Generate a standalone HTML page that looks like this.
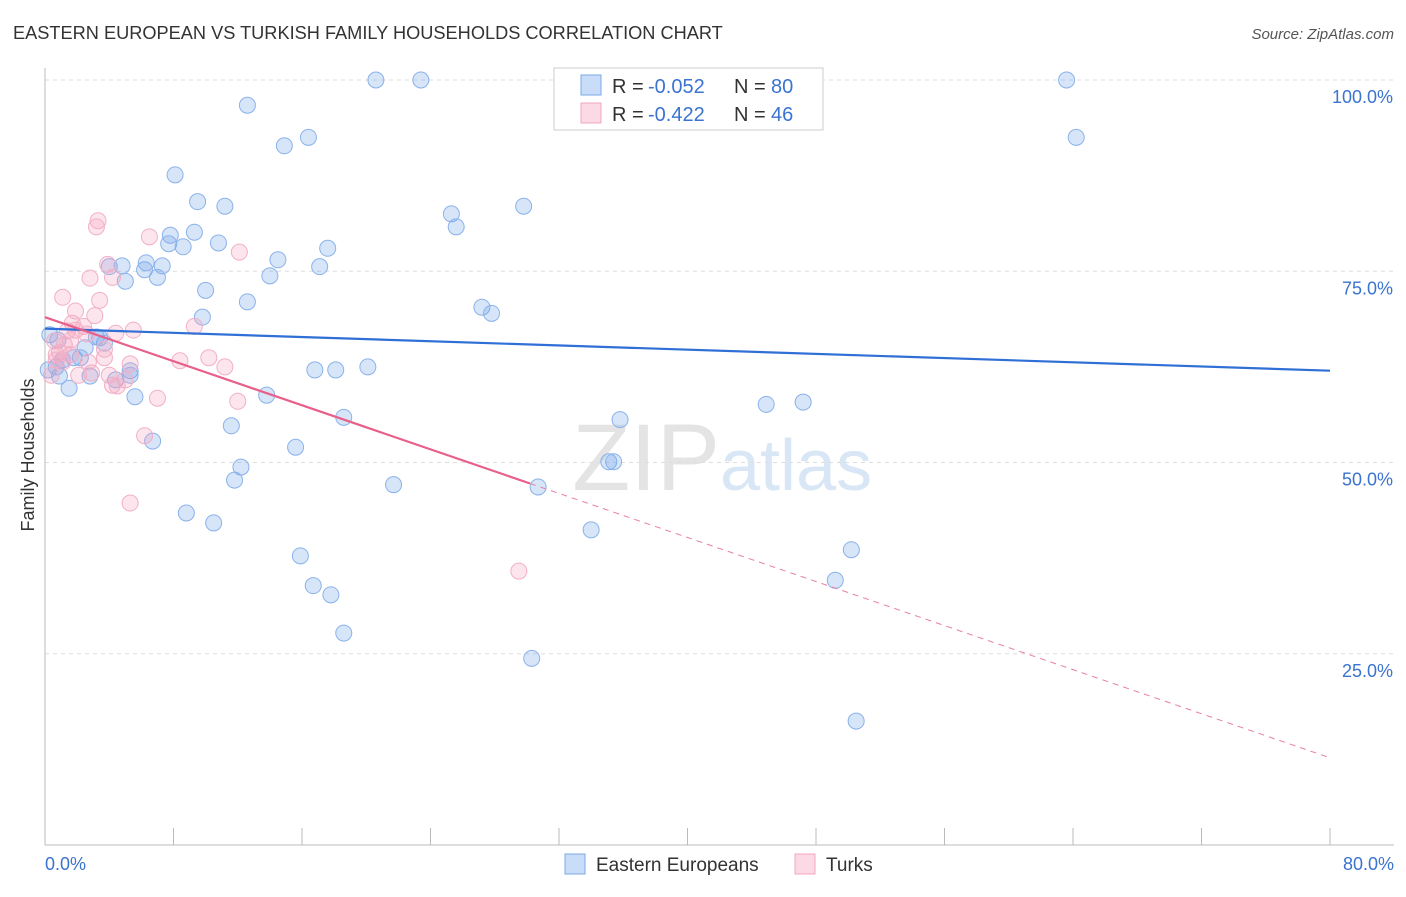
<!DOCTYPE html>
<html><head><meta charset="utf-8"><style>
body{margin:0;background:#fff;font-family:"Liberation Sans",sans-serif}
svg text{font-family:"Liberation Sans",sans-serif}
</style></head><body>
<svg id="c" width="1406" height="892" xmlns="http://www.w3.org/2000/svg">
<text x="13" y="39" font-size="18.2" fill="#333">EASTERN EUROPEAN VS TURKISH FAMILY HOUSEHOLDS CORRELATION CHART</text>
<text x="1394" y="39" font-size="15" fill="#555" font-style="italic" text-anchor="end">Source: ZipAtlas.com</text>
<text x="720" y="490" font-size="95" fill="#e4e4e4" text-anchor="end" font-family="Liberation Serif">ZIP</text>
<text x="720" y="490" font-size="72" fill="#d8e6f6">atlas</text>
<text transform="translate(34,455) rotate(-90)" font-size="18" fill="#333" text-anchor="middle">Family Households</text>
<g id="grid"></g><g id="marks"></g>
<g>
<rect x="554" y="68" width="269" height="62" fill="#fff" stroke="#ccc"/>
<rect x="581" y="75" width="20" height="20" fill="rgba(120,170,240,0.4)" stroke="#7aa8e8"/>
<rect x="581" y="103" width="20" height="20" fill="rgba(245,160,190,0.4)" stroke="#f0a8c0"/>
<text x="612" y="93" font-size="20" fill="#333">R =</text>
<text x="648" y="93" font-size="20" fill="#3a73d0">-0.052</text>
<text x="734" y="93" font-size="20" fill="#333">N =</text>
<text x="771" y="93" font-size="20" fill="#3a73d0">80</text>
<text x="612" y="121" font-size="20" fill="#333">R =</text>
<text x="648" y="121" font-size="20" fill="#3a73d0">-0.422</text>
<text x="734" y="121" font-size="20" fill="#333">N =</text>
<text x="771" y="121" font-size="20" fill="#3a73d0">46</text>
</g>
<g>
<rect x="565" y="854" width="20" height="20" fill="rgba(120,170,240,0.4)" stroke="#7aa8e8"/>
<text x="596" y="871" font-size="19" fill="#333">Eastern Europeans</text>
<rect x="795" y="854" width="20" height="20" fill="rgba(245,160,190,0.4)" stroke="#f0a8c0"/>
<text x="826" y="871" font-size="19" fill="#333">Turks</text>
</g>
</svg>
<script>
const blueX=[20.6,23.4,63.6,12.6,64.2,16.4,14.9,8.1,9.5,11.2,25.3,29.8,25.6,7.8,9.3,7.7,8.6,10.8,17.6,4.8,4.0,6.2,6.3,7.3,7.0,5.0,14.5,17.1,14.0,10.0,12.6,27.2,27.8,9.8,0.3,3.4,3.7,2.5,1.8,2.2,1.1,0.7,0.9,2.8,5.3,4.4,1.5,5.6,16.8,18.1,20.1,13.8,44.9,47.2,18.6,35.8,11.6,6.7,15.6,35.1,35.4,12.2,11.8,21.7,30.7,8.8,10.5,34.0,50.2,15.9,49.2,16.7,17.8,18.6,30.3,50.5,0.8,3.2,0.2,5.3];
const blueY=[100,100,100,96.7,92.5,92.5,91.4,87.6,84.1,83.5,82.5,83.5,80.8,79.7,80.1,78.6,78.2,78.7,78.0,75.7,75.6,75.2,76.1,75.7,74.2,73.7,76.5,75.6,74.4,72.5,71.0,70.3,69.5,69.0,66.7,66.3,65.6,65.0,63.7,63.7,63.4,62.5,61.3,61.3,62.0,60.8,59.7,58.6,62.1,62.1,62.5,58.8,57.6,57.9,55.9,55.6,54.8,52.8,52.0,50.1,50.1,49.4,47.7,47.1,46.8,43.4,42.1,41.2,38.6,37.8,34.6,33.9,32.7,27.7,24.4,16.2,66.0,66.4,62.1,61.4];
const pinkX=[3.3,3.2,6.5,12.1,2.8,3.9,4.2,1.1,3.4,1.9,3.1,1.7,2.4,1.4,2.6,5.5,4.4,9.3,0.6,0.9,0.7,1.6,3.7,3.7,8.4,10.2,11.2,5.3,2.9,5.0,4.2,2.1,7.0,12.0,6.2,5.3,29.5,0.4,0.7,1.9,1.2,4.5,2.7,1.1,4.0,1.6];
const pinkY=[81.6,80.8,79.5,77.5,74.1,75.9,74.2,71.6,71.2,69.8,69.2,68.2,67.8,67.2,66.8,67.3,66.9,67.8,65.9,64.4,64.1,64.1,64.8,63.7,63.3,63.7,62.5,62.9,61.7,60.8,60.1,61.4,58.4,58.0,53.5,44.7,35.8,61.4,63.4,67.3,65.4,60.0,63.1,63.1,61.4,66.0];
const blueTrend=[67.5,62.0];
const pinkTrend=[69.0,11.4];
const pinkSolidEnd=30.2;
const xTicks=[0,8,16,24,32,40,48,56,64,72,80];
const yTicks=[25,50,75,100];
const yTickLabels=["25.0%","50.0%","75.0%","100.0%"];
const xEndLabels=["0.0%","80.0%"];
const NS="http://www.w3.org/2000/svg";
const X=v=>45+v/80*1285, Y=v=>845-v/100*765;
function mk(p,t,a){const e=document.createElementNS(NS,t);for(const k in a)e.setAttribute(k,a[k]);p.appendChild(e);return e;}
const g=document.getElementById('grid'),m=document.getElementById('marks');
yTicks.forEach((t,i)=>{
 const l=mk(g,'line',{x1:45,x2:1394,y1:Y(t),y2:Y(t),stroke:'#ddd','stroke-dasharray':'4,4'});
 
 
 const tx=mk(g,'text',{x:1393,y:Y(t)+23,'font-size':18,fill:'#3a73d0','text-anchor':'end'});
 tx.textContent=yTickLabels[i];
 
 
});
const ax=mk(g,'line',{x1:45,x2:1394,y1:845,y2:845,stroke:'#bbb'});


const ay=mk(g,'line',{x1:45,x2:45,y1:68,y2:845,stroke:'#bbb'});


xTicks.forEach(t=>{const l=mk(g,'line',{x1:X(t),x2:X(t),y1:828,y2:845,stroke:'#bbb'});
 
 });
[[0,45,'start'],[1,1394,'end']].forEach(([i,x,a])=>{const t=mk(g,'text',{x:x,y:870,'font-size':18,fill:'#3a73d0','text-anchor':a});t.textContent=xEndLabels[i];
 
 });
blueX.forEach((v,i)=>{const c=mk(m,'circle',{cx:X(v),cy:Y(blueY[i]),r:8,fill:'rgba(110,160,235,0.28)',stroke:'#8ab2ea','stroke-width':1});
 
 });
pinkX.forEach((v,i)=>{const c=mk(m,'circle',{cx:X(v),cy:Y(pinkY[i]),r:8,fill:'rgba(245,160,190,0.28)',stroke:'#f2b0c6','stroke-width':1});
 
 });
const bt=mk(m,'line',{x1:X(0),y1:Y(blueTrend[0]),x2:X(80),y2:Y(blueTrend[1]),stroke:'#2f6fd6','stroke-width':2.2});


const pAt=x=>pinkTrend[0]+(pinkTrend[1]-pinkTrend[0])*x/80;
const ps=mk(m,'line',{x1:X(0),y1:Y(pinkTrend[0]),x2:X(pinkSolidEnd),y2:Y(pAt(pinkSolidEnd)),stroke:'#e8608a','stroke-width':2.2});


const pd=mk(m,'line',{x1:X(pinkSolidEnd),y1:Y(pAt(pinkSolidEnd)),x2:X(80),y2:Y(pinkTrend[1]),stroke:'#e8809f','stroke-width':1,'stroke-dasharray':'6,5'});


</script>
</body></html>
